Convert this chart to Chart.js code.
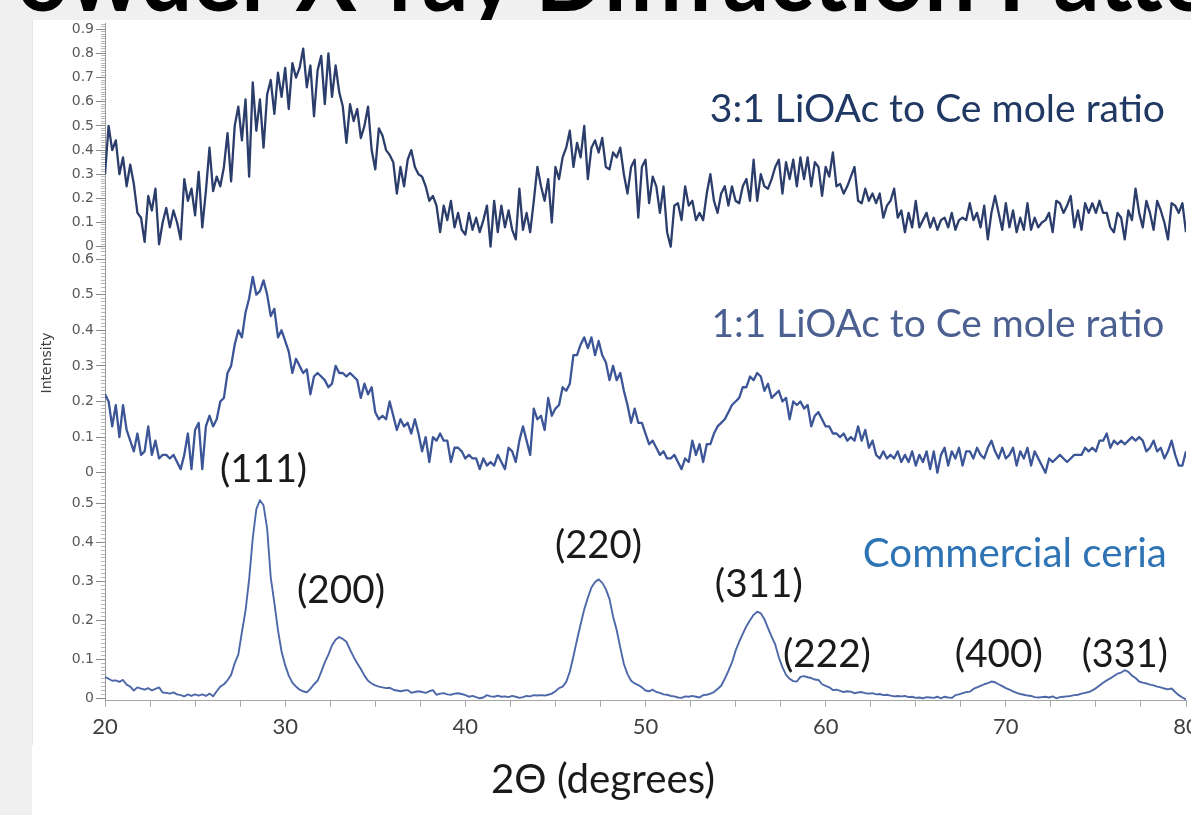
<!DOCTYPE html>
<html>
<head>
<meta charset="utf-8">
<title>Powder X-ray Diffraction Pattern</title>
<script src="https://cdn.jsdelivr.net/npm/chart.js@4.4.1/dist/chart.umd.min.js"></script>
<style>
  html, body { margin: 0; padding: 0; }
  body { width: 1191px; height: 815px; overflow: hidden; background: #f0f0f0; position: relative; }
  #title { position: absolute; left: 0; top: 0; }
  #panel { position: absolute; left: 32px; top: 20px; width: 1159px; height: 795px; background: #fff; }
  #edge { position: absolute; left: 0; top: 0; width: 1px; height: 725px; background: #e6e6e6; }
  #wrap { position: absolute; left: 0; top: 0; width: 1159px; height: 795px; }
</style>
</head>
<body>
<svg id="title" width="1191" height="20"><text x="-38" y="10.5" textLength="1335" lengthAdjust="spacingAndGlyphs" font-family="Lato" font-weight="700" font-size="98" fill="#000">Powder X-ray Diffraction Pattern</text></svg>
<div id="panel"><div id="edge"></div><div id="wrap"><canvas id="xrd"></canvas></div></div>
<script>
// 2-theta grid: 20..80 deg, 0.2 deg per point
const thetaStart = 20;
const thetaStep = 0.2;

// 3:1 LiOAc to Ce (top trace)
const ratio31 = [
  0.30, 0.50, 0.40, 0.44, 0.30, 0.37, 0.25, 0.34, 0.26, 0.14,
  0.12, 0.02, 0.21, 0.15, 0.24, 0.01, 0.10, 0.16, 0.08, 0.15,
  0.10, 0.03, 0.28, 0.19, 0.24, 0.13, 0.31, 0.08, 0.23, 0.41,
  0.23, 0.29, 0.25, 0.33, 0.47, 0.27, 0.50, 0.58, 0.44, 0.61,
  0.29, 0.68, 0.48, 0.61, 0.41, 0.63, 0.69, 0.55, 0.72, 0.62,
  0.74, 0.57, 0.76, 0.70, 0.74, 0.82, 0.66, 0.75, 0.54, 0.73,
  0.79, 0.59, 0.80, 0.62, 0.75, 0.64, 0.58, 0.43, 0.59, 0.52,
  0.57, 0.45, 0.50, 0.58, 0.40, 0.32, 0.49, 0.46, 0.40, 0.38,
  0.35, 0.22, 0.33, 0.25, 0.36, 0.40, 0.33, 0.30, 0.29, 0.25,
  0.19, 0.21, 0.17, 0.06, 0.17, 0.11, 0.19, 0.08, 0.14, 0.07,
  0.05, 0.14, 0.07, 0.12, 0.06, 0.11, 0.17, 0.00, 0.19, 0.06,
  0.17, 0.08, 0.15, 0.07, 0.03, 0.24, 0.07, 0.14, 0.06, 0.19,
  0.33, 0.25, 0.19, 0.28, 0.10, 0.33, 0.28, 0.37, 0.41, 0.48,
  0.33, 0.43, 0.37, 0.50, 0.28, 0.41, 0.44, 0.39, 0.45, 0.33,
  0.32, 0.39, 0.37, 0.41, 0.30, 0.22, 0.33, 0.36, 0.12, 0.33,
  0.36, 0.18, 0.29, 0.25, 0.14, 0.25, 0.06, 0.00, 0.17, 0.18,
  0.11, 0.25, 0.17, 0.19, 0.11, 0.14, 0.11, 0.22, 0.30, 0.19,
  0.14, 0.22, 0.25, 0.17, 0.25, 0.19, 0.18, 0.25, 0.28, 0.19,
  0.36, 0.19, 0.30, 0.25, 0.24, 0.28, 0.33, 0.36, 0.22, 0.35,
  0.28, 0.36, 0.25, 0.37, 0.28, 0.37, 0.25, 0.35, 0.33, 0.21,
  0.33, 0.29, 0.39, 0.25, 0.26, 0.22, 0.25, 0.29, 0.33, 0.19,
  0.18, 0.24, 0.19, 0.22, 0.18, 0.22, 0.12, 0.17, 0.19, 0.24,
  0.12, 0.15, 0.06, 0.14, 0.08, 0.19, 0.08, 0.11, 0.14, 0.08,
  0.12, 0.07, 0.11, 0.12, 0.08, 0.14, 0.07, 0.11, 0.12, 0.11,
  0.18, 0.11, 0.14, 0.08, 0.17, 0.03, 0.14, 0.21, 0.14, 0.07,
  0.18, 0.08, 0.15, 0.06, 0.12, 0.07, 0.18, 0.07, 0.12, 0.08,
  0.10, 0.11, 0.14, 0.06, 0.19, 0.18, 0.14, 0.17, 0.21, 0.08,
  0.15, 0.07, 0.18, 0.14, 0.18, 0.14, 0.19, 0.14, 0.14, 0.08,
  0.06, 0.14, 0.12, 0.03, 0.15, 0.11, 0.24, 0.14, 0.08, 0.19,
  0.14, 0.07, 0.19, 0.15, 0.10, 0.03, 0.18, 0.17, 0.14, 0.18,
  0.06
];

// 1:1 LiOAc to Ce (middle trace)
const ratio11 = [
  0.22, 0.20, 0.13, 0.19, 0.10, 0.19, 0.12, 0.09, 0.06, 0.11,
  0.05, 0.06, 0.13, 0.05, 0.09, 0.04, 0.05, 0.05, 0.04, 0.05,
  0.03, 0.01, 0.05, 0.11, 0.01, 0.12, 0.14, 0.01, 0.13, 0.16,
  0.13, 0.15, 0.20, 0.21, 0.28, 0.30, 0.36, 0.40, 0.38, 0.45,
  0.49, 0.55, 0.50, 0.51, 0.54, 0.50, 0.44, 0.46, 0.38, 0.40,
  0.37, 0.34, 0.28, 0.32, 0.30, 0.28, 0.29, 0.22, 0.27, 0.28,
  0.27, 0.26, 0.24, 0.25, 0.30, 0.28, 0.28, 0.27, 0.28, 0.27,
  0.26, 0.21, 0.25, 0.22, 0.24, 0.17, 0.15, 0.16, 0.15, 0.20,
  0.16, 0.12, 0.15, 0.13, 0.14, 0.11, 0.15, 0.11, 0.06, 0.10,
  0.03, 0.10, 0.09, 0.11, 0.09, 0.09, 0.03, 0.07, 0.07, 0.06,
  0.04, 0.05, 0.04, 0.04, 0.01, 0.04, 0.02, 0.03, 0.02, 0.05,
  0.03, 0.01, 0.07, 0.06, 0.03, 0.09, 0.13, 0.09, 0.05, 0.18,
  0.15, 0.16, 0.12, 0.21, 0.16, 0.18, 0.19, 0.24, 0.23, 0.25,
  0.33, 0.33, 0.36, 0.38, 0.35, 0.38, 0.33, 0.37, 0.33, 0.31,
  0.26, 0.30, 0.26, 0.28, 0.23, 0.19, 0.14, 0.18, 0.14, 0.14,
  0.11, 0.08, 0.09, 0.07, 0.05, 0.06, 0.04, 0.04, 0.05, 0.03,
  0.01, 0.04, 0.03, 0.09, 0.05, 0.08, 0.03, 0.08, 0.08, 0.11,
  0.13, 0.14, 0.15, 0.17, 0.19, 0.20, 0.21, 0.24, 0.24, 0.27,
  0.26, 0.28, 0.27, 0.23, 0.25, 0.21, 0.22, 0.23, 0.20, 0.21,
  0.15, 0.20, 0.19, 0.20, 0.18, 0.19, 0.13, 0.16, 0.17, 0.15,
  0.13, 0.13, 0.11, 0.11, 0.10, 0.11, 0.09, 0.10, 0.09, 0.13,
  0.09, 0.12, 0.07, 0.09, 0.05, 0.04, 0.06, 0.04, 0.05, 0.04,
  0.06, 0.03, 0.05, 0.03, 0.06, 0.02, 0.05, 0.03, 0.06, 0.01,
  0.06, 0.00, 0.05, 0.07, 0.02, 0.06, 0.04, 0.07, 0.02, 0.06,
  0.06, 0.04, 0.07, 0.05, 0.04, 0.07, 0.09, 0.06, 0.04, 0.07,
  0.04, 0.05, 0.07, 0.02, 0.06, 0.04, 0.07, 0.02, 0.06, 0.04,
  0.02, 0.00, 0.04, 0.03, 0.04, 0.05, 0.04, 0.03, 0.04, 0.05,
  0.05, 0.05, 0.07, 0.06, 0.07, 0.06, 0.09, 0.09, 0.11, 0.07,
  0.09, 0.08, 0.09, 0.08, 0.09, 0.10, 0.09, 0.10, 0.09, 0.06,
  0.07, 0.09, 0.06, 0.07, 0.04, 0.06, 0.09, 0.05, 0.02, 0.02,
  0.06
];

// commercial ceria (bottom trace)
const ceria = [
  0.055, 0.050, 0.045, 0.046, 0.042, 0.047, 0.035, 0.030, 0.020, 0.028,
  0.025, 0.022, 0.026, 0.020, 0.024, 0.028, 0.015, 0.014, 0.012, 0.015,
  0.010, 0.008, 0.005, 0.010, 0.006, 0.010, 0.007, 0.010, 0.006, 0.012,
  0.005, 0.018, 0.030, 0.036, 0.046, 0.060, 0.090, 0.112, 0.170, 0.225,
  0.305, 0.410, 0.485, 0.508, 0.495, 0.435, 0.310, 0.245, 0.175, 0.120,
  0.085, 0.058, 0.040, 0.030, 0.022, 0.018, 0.015, 0.024, 0.036, 0.045,
  0.068, 0.092, 0.112, 0.136, 0.150, 0.157, 0.152, 0.145, 0.125, 0.106,
  0.090, 0.075, 0.058, 0.045, 0.038, 0.033, 0.030, 0.028, 0.026, 0.027,
  0.022, 0.020, 0.018, 0.020, 0.021, 0.014, 0.016, 0.018, 0.016, 0.014,
  0.018, 0.021, 0.009, 0.012, 0.013, 0.010, 0.009, 0.012, 0.013, 0.011,
  0.008, 0.004, 0.006, 0.003, 0.000, 0.002, 0.008, 0.005, 0.004, 0.007,
  0.004, 0.005, 0.003, 0.006, 0.004, 0.001, 0.003, 0.006, 0.005, 0.008,
  0.007, 0.008, 0.007, 0.009, 0.012, 0.018, 0.026, 0.030, 0.042, 0.068,
  0.108, 0.150, 0.190, 0.228, 0.258, 0.284, 0.298, 0.305, 0.296, 0.280,
  0.255, 0.210, 0.175, 0.130, 0.088, 0.062, 0.045, 0.038, 0.034, 0.028,
  0.020, 0.018, 0.022, 0.016, 0.014, 0.010, 0.009, 0.006, 0.005, 0.002,
  0.001, 0.005, 0.004, 0.006, 0.004, 0.002, 0.008, 0.009, 0.012, 0.016,
  0.024, 0.032, 0.050, 0.070, 0.092, 0.122, 0.145, 0.165, 0.185, 0.200,
  0.214, 0.222, 0.218, 0.203, 0.180, 0.158, 0.138, 0.105, 0.080, 0.060,
  0.050, 0.044, 0.043, 0.055, 0.057, 0.054, 0.052, 0.048, 0.047, 0.036,
  0.032, 0.028, 0.021, 0.022, 0.019, 0.016, 0.018, 0.017, 0.013, 0.015,
  0.016, 0.013, 0.012, 0.013, 0.010, 0.011, 0.008, 0.009, 0.007, 0.005,
  0.006, 0.005, 0.006, 0.003, 0.004, 0.001, 0.002, 0.000, 0.003, 0.002,
  0.001, 0.004, 0.000, 0.004, 0.002, 0.001, 0.008, 0.010, 0.013, 0.016,
  0.017, 0.024, 0.028, 0.032, 0.036, 0.039, 0.043, 0.041, 0.036, 0.031,
  0.026, 0.022, 0.018, 0.014, 0.011, 0.009, 0.007, 0.006, 0.003, 0.002,
  0.003, 0.004, 0.002, 0.005, 0.000, 0.003, 0.004, 0.005, 0.006, 0.008,
  0.009, 0.012, 0.014, 0.016, 0.020, 0.026, 0.033, 0.040, 0.046, 0.051,
  0.057, 0.063, 0.066, 0.072, 0.068, 0.058, 0.052, 0.043, 0.040, 0.038,
  0.035, 0.033, 0.030, 0.028, 0.025, 0.023, 0.025, 0.016, 0.008, 0.002,
  -0.003
];

// text on the plot: [text, 2theta, axis, level, width px, colour]
const notes = [
  ['3:1 LiOAc to Ce mole ratio', 66.2, 'yTop', 0.516, 455, '#203864'],
  ['1:1 LiOAc to Ce mole ratio', 66.23, 'yMid', 0.381, 453, '#4b5f91'],
  ['Commercial ceria', 70.5, 'yBot', 0.336, 304, '#2e74b5'],
  ['(111)', 28.8, 'yBot', 0.555, 87, '#1a1a1a'],
  ['(200)', 33.1, 'yBot', 0.244, 88, '#1a1a1a'],
  ['(220)', 47.39, 'yBot', 0.360, 87, '#1a1a1a'],
  ['(311)', 56.29, 'yBot', 0.260, 88, '#1a1a1a'],
  ['(222)', 60.07, 'yBot', 0.080, 88, '#1a1a1a'],
  ['(400)', 69.61, 'yBot', 0.080, 88, '#1a1a1a'],
  ['(331)', 76.6, 'yBot', 0.080, 86, '#1a1a1a'],
  ['2\u0398 (degrees)', 47.64, 'yBot', -0.243, 224, '#1a1a1a']
];

const twoTheta = ratio31.map((_, i) => +(thetaStart + i * thetaStep).toFixed(1));
const pts = arr => arr.map((v, i) => ({ x: twoTheta[i], y: v }));

const isMajor = v => Math.abs(v * 10 - Math.round(v * 10)) < 1e-6;

function yAxis(min, max, weight, title) {
  return {
    type: 'linear',
    position: 'left',
    stack: 'panels',
    stackWeight: weight,
    min: min,
    max: max,
    border: { display: true, color: '#9a9a9a', width: 1 },
    grid: {
      drawOnChartArea: false,
      tickLength: 9,
      tickColor: ctx => (ctx.tick && isMajor(ctx.tick.value)) ? '#8a8a8a' : '#b8b8b8',
      tickBorderDash: ctx => (ctx.tick && isMajor(ctx.tick.value)) ? [] : [0, 5, 4, 20]
    },
    ticks: {
      stepSize: 0.01,
      autoSkip: false,
      includeBounds: false,
      padding: 2,
      color: '#595959',
      font: { family: 'DejaVu Sans', size: 14 },
      callback: v => isMajor(v) ? String(Math.round(v * 10) / 10) : ''
    },
    title: title
      ? { display: true, text: title, color: '#404040', font: { family: 'DejaVu Sans', size: 14 }, padding: { top: 6.5, bottom: 0 } }
      : { display: false },
    afterFit: s => { s.width = 73; s.paddingTop = 0; s.paddingBottom = 0; }
  };
}

const annotate = {
  id: 'annotate',
  afterDatasetsDraw(chart) {
    const { ctx, scales } = chart;
    ctx.save();
    ctx.textAlign = 'center';
    ctx.textBaseline = 'alphabetic';
    notes.forEach(([text, theta, axis, level, width, color]) => {
      ctx.font = '100px Lato';
      const size = 100 * width / ctx.measureText(text).width;
      ctx.font = size.toFixed(1) + 'px Lato';
      ctx.fillStyle = color;
      ctx.fillText(text, scales.x.getPixelForValue(theta), scales[axis].getPixelForValue(level));
    });
    ctx.restore();
  }
};

new Chart(document.getElementById('xrd'), {
  type: 'line',
  data: {
    datasets: [
      { label: '3:1 LiOAc to Ce mole ratio', data: pts(ratio31), yAxisID: 'yTop', borderColor: '#2b3d6b', borderWidth: 2.3 },
      { label: '1:1 LiOAc to Ce mole ratio', data: pts(ratio11), yAxisID: 'yMid', borderColor: '#3b5597', borderWidth: 2.3 },
      { label: 'Commercial ceria', data: pts(ceria), yAxisID: 'yBot', borderColor: '#4d68a8', borderWidth: 1.9 }
    ]
  },
  options: {
    responsive: true,
    maintainAspectRatio: false,
    devicePixelRatio: 1,
    animation: false,
    elements: {
      point: { radius: 0, hoverRadius: 0 },
      line: { tension: 0, borderJoinStyle: 'round', fill: false }
    },
    layout: { padding: { left: 0, top: 3, right: 5, bottom: 4.3 } },
    plugins: { legend: { display: false }, tooltip: { enabled: false } },
    scales: {
      x: {
        type: 'linear',
        min: 20,
        max: 80,
        border: { color: '#a6a6a6', width: 1 },
        grid: { drawOnChartArea: false, tickLength: 6, tickColor: '#a6a6a6' },
        ticks: {
          stepSize: 2.5,
          autoSkip: false,
          maxRotation: 0,
          padding: 7,
          color: '#404040',
          font: { family: 'Lato', size: 22 },
          callback: v => v % 10 === 0 ? String(v) : ''
        },
        afterFit: s => { s.height = 110; s.paddingLeft = 0; s.paddingRight = 0; }
      },
      // stacked panels are laid out bottom-up
      yBot: yAxis(-0.0062, 0.565, 222.7, ''),
      yMid: yAxis(-0.0149, 0.631, 230, 'Intensity'),
      yTop: yAxis(-0.0054, 0.926, 225, '')
    }
  },
  plugins: [annotate]
});
</script>
</body>
</html>
